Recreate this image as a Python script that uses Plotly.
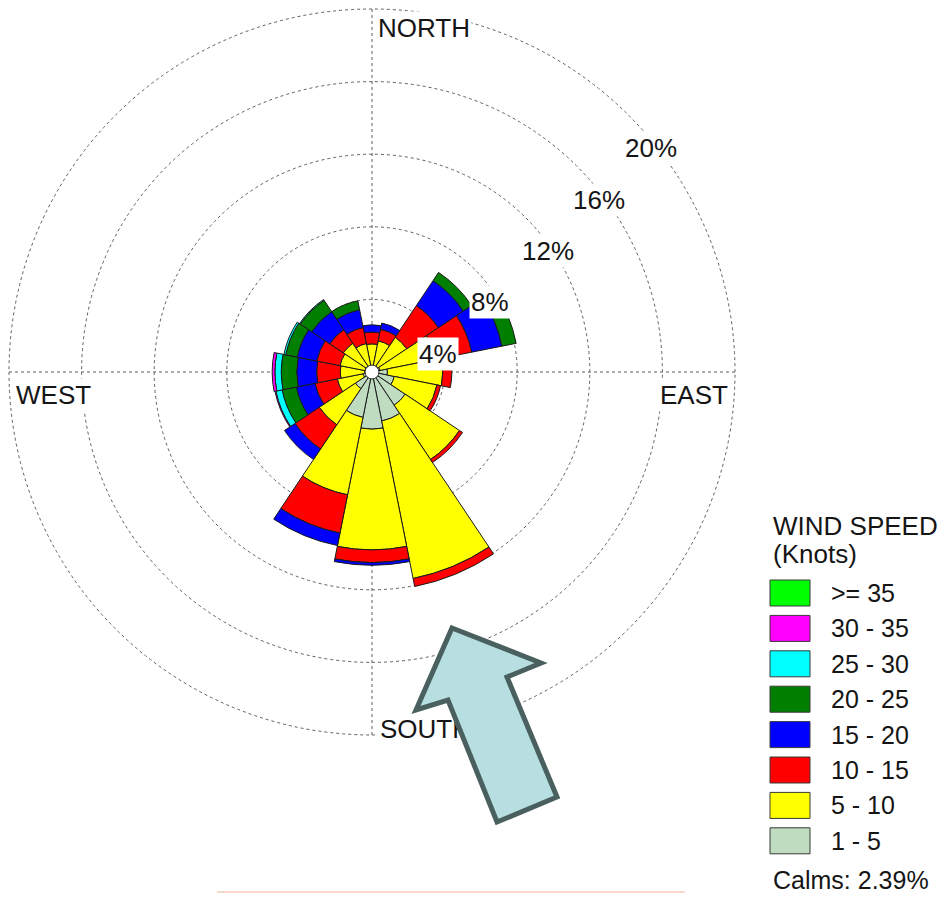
import plotly.graph_objects as go

# ---- data -----------------------------------------------------------------
DIRECTIONS = ["N", "NNE", "NE", "ENE", "E", "ESE", "SE", "SSE",
              "S", "SSW", "SW", "WSW", "W", "WNW", "NW", "NNW"]
DIR_ANGLES = [0, 22.5, 45, 67.5, 90, 112.5, 135, 157.5,
              180, 202.5, 225, 247.5, 270, 292.5, 315, 337.5]

SPEED_CLASSES = ["1 - 5", "5 - 10", "10 - 15", "15 - 20",
                 "20 - 25", "25 - 30", "30 - 35", ">= 35"]
CLASS_COLORS = ["#c0dcc0", "#ffff00", "#ff0000", "#0000ff",
                "#007f00", "#00ffff", "#ff00ff", "#00ff00"]

# frequency of occurrence (%) per direction, one list per speed class
FREQ_1_5 = [0.35, 0.35, 0.40, 0.45, 0.85, 1.25, 2.20, 2.75,
            3.15, 2.55, 1.10, 0.50, 0.40, 0.40, 0.40, 0.35]
FREQ_5_10 = [1.20, 1.40, 1.90, 3.15, 3.05, 2.40, 3.60, 8.85,
             6.65, 4.35, 2.40, 1.45, 1.35, 1.40, 1.50, 1.25]
FREQ_10_15 = [0.65, 0.65, 2.10, 2.00, 0.50, 0.20, 0.20, 0.45,
              0.70, 2.15, 1.60, 1.25, 1.30, 1.30, 0.90, 0.90]
FREQ_15_20 = [0.40, 0.35, 1.65, 1.70, 0.00, 0.00, 0.00, 0.00,
              0.15, 0.70, 0.70, 1.05, 1.10, 1.10, 1.20, 1.00]
FREQ_20_25 = [0.00, 0.00, 0.55, 0.80, 0.00, 0.00, 0.00, 0.00,
              0.00, 0.00, 0.00, 0.80, 0.85, 0.65, 0.75, 0.50]
FREQ_25_30 = [0.00, 0.00, 0.00, 0.00, 0.00, 0.00, 0.00, 0.00,
              0.00, 0.00, 0.00, 0.35, 0.35, 0.10, 0.05, 0.00]
FREQ_30_35 = [0.00, 0.00, 0.00, 0.00, 0.00, 0.00, 0.00, 0.00,
              0.00, 0.00, 0.00, 0.05, 0.15, 0.00, 0.00, 0.00]
FREQ_35_UP = [0.00, 0.00, 0.00, 0.00, 0.00, 0.00, 0.00, 0.00,
              0.00, 0.00, 0.00, 0.00, 0.00, 0.00, 0.00, 0.00]

CALMS = 2.39
RING_TICKS = [4, 8, 12, 16, 20]
COMPASS = {"NORTH": 0, "EAST": 90, "SOUTH": 180, "WEST": 270}

# ---- page geometry (pixels) -------------------------------------------------
W, H = 945, 899
CX, CY, R_PX = 372, 372, 363          # rose centre and radius of the 20% ring
R_MAX = RING_TICKS[-1]
PAD = 1.004                           # keep the outermost ring inside the range
FONT = "Arial, Liberation Sans, sans-serif"
GRID = "#5e5e5e"
INK = "#151515"


def px(x):
    return x / W


def py(y):
    return 1 - y / H


fig = go.Figure()

# stacked wind-rose wedges
series = [FREQ_1_5, FREQ_5_10, FREQ_10_15, FREQ_15_20,
          FREQ_20_25, FREQ_25_30, FREQ_30_35, FREQ_35_UP]
running = [0.0] * len(DIRECTIONS)
for name, color, values in zip(SPEED_CLASSES, CLASS_COLORS, series):
    keep = [i for i, v in enumerate(values) if v > 0]
    if keep:
        fig.add_trace(go.Barpolar(
            r=[values[i] for i in keep],
            base=[running[i] for i in keep],
            theta=[DIR_ANGLES[i] for i in keep],
            width=[22.5] * len(keep),
            name=name,
            marker=dict(color=color, line=dict(color="#1a1a1a", width=1)),
            showlegend=False,
            hovertext=[DIRECTIONS[i] for i in keep],
        ))
    running = [a + b for a, b in zip(running, values)]

R_OUT = R_PX * PAD
fig.update_layout(
    width=W, height=H,
    margin=dict(l=0, r=0, t=0, b=0),
    paper_bgcolor="white",
    font=dict(family=FONT, color=INK),
    polar=dict(
        domain=dict(x=[px(CX - R_OUT), px(CX + R_OUT)],
                    y=[py(CY + R_OUT), py(CY - R_OUT)]),
        bgcolor="white",
        barmode="overlay",
        radialaxis=dict(range=[0, R_MAX * PAD], tickvals=RING_TICKS,
                        showticklabels=False, ticks="", showline=False,
                        gridcolor=GRID, gridwidth=1, griddash="dot"),
        angularaxis=dict(rotation=90, direction="clockwise",
                         tickvals=list(COMPASS.values()),
                         showticklabels=False, ticks="", showline=False,
                         gridcolor=GRID, gridwidth=1, griddash="dot"),
    ),
)

annotations = []
shapes = []

# percentage labels on the rings, along the north-east diagonal
for v in RING_TICKS:
    r = v * R_PX / R_MAX
    ax = CX + r * 0.7071
    ay = CY - r * 0.7071
    annotations.append(dict(
        x=px(ax - 6), y=py(ay + 33), xref="paper", yref="paper",
        xanchor="left", yanchor="middle", showarrow=False,
        text=f"{v}%", font=dict(size=26, color=INK, family=FONT),
        bgcolor="white", borderpad=1))

# compass labels
annotations.append(dict(x=px(376), y=py(28), xref="paper", yref="paper",
                        xanchor="left", yanchor="middle", showarrow=False,
                        text="NORTH", font=dict(size=26, family=FONT, color=INK),
                        bgcolor="white", borderpad=1))
annotations.append(dict(x=px(14), y=py(395), xref="paper", yref="paper",
                        xanchor="left", yanchor="middle", showarrow=False,
                        text="WEST", font=dict(size=26, family=FONT, color=INK),
                        bgcolor="white", borderpad=1))
annotations.append(dict(x=px(730), y=py(395), xref="paper", yref="paper",
                        xanchor="right", yanchor="middle", showarrow=False,
                        text="EAST", font=dict(size=26, family=FONT, color=INK),
                        bgcolor="white", borderpad=1))

# calm hub in the centre of the rose
shapes.append(dict(type="circle", xref="paper", yref="paper",
                   x0=px(CX - 7), x1=px(CX + 7), y0=py(CY + 7), y1=py(CY - 7),
                   fillcolor="white", line=dict(color="#222", width=1),
                   layer="above"))

# SOUTH label sits underneath the pointer arrow, so it is a labelled shape
shapes.append(dict(type="rect", xref="paper", yref="paper",
                   x0=px(375), x1=px(472), y0=py(741), y1=py(713),
                   fillcolor="white", line=dict(width=0), layer="above",
                   label=dict(text="SOUTH", textposition="middle left",
                              padding=2,
                              font=dict(size=26, family=FONT, color=INK))))

# pointer arrow
arrow_pts = [(452, 628), (541, 663), (507, 677), (557, 797),
             (497, 822), (448, 700), (416, 710)]
path = "M " + " L ".join(f"{px(x):.5f},{py(y):.5f}" for x, y in arrow_pts) + " Z"
shapes.append(dict(type="path", xref="paper", yref="paper", path=path,
                   fillcolor="#b7dfe2", line=dict(color="#4a605e", width=5),
                   layer="above"))

# faint rule at the foot of the page
shapes.append(dict(type="line", xref="paper", yref="paper",
                   x0=px(217), x1=px(685), y0=py(892), y1=py(892),
                   line=dict(color="#f9d8cc", width=2), layer="above"))

# legend
annotations.append(dict(x=px(771), y=py(526), xref="paper", yref="paper",
                        xanchor="left", yanchor="middle", showarrow=False,
                        text="WIND SPEED", font=dict(size=26, family=FONT, color=INK)))
annotations.append(dict(x=px(771), y=py(554), xref="paper", yref="paper",
                        xanchor="left", yanchor="middle", showarrow=False,
                        text="(Knots)", font=dict(size=26, family=FONT, color=INK)))
legend_rows = list(zip(SPEED_CLASSES, CLASS_COLORS))[::-1]
for i, (name, color) in enumerate(legend_rows):
    yc = 593 + i * 35.4
    shapes.append(dict(type="rect", xref="paper", yref="paper",
                       x0=px(770), x1=px(810), y0=py(yc + 13), y1=py(yc - 13),
                       fillcolor=color, line=dict(color="#3a3a3a", width=1),
                       layer="above"))
    annotations.append(dict(x=px(829), y=py(yc), xref="paper", yref="paper",
                            xanchor="left", yanchor="middle", showarrow=False,
                            text=name, font=dict(size=25, family=FONT, color=INK)))
annotations.append(dict(x=px(771), y=py(880), xref="paper", yref="paper",
                        xanchor="left", yanchor="middle", showarrow=False,
                        text=f"Calms: {CALMS:.2f}%",
                        font=dict(size=25, family=FONT, color=INK)))

fig.update_layout(annotations=annotations, shapes=shapes)
fig.write_html("out.html")
